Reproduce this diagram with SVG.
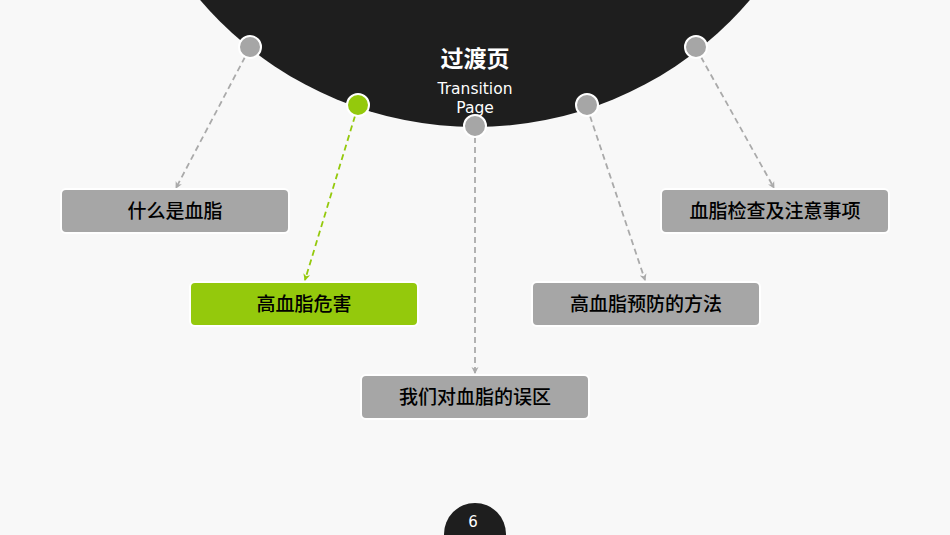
<svg xmlns="http://www.w3.org/2000/svg" width="950" height="535" viewBox="0 0 950 535">
<defs>
<style>
.box{fill:#a6a6a6;stroke:#ffffff;stroke-width:2}
.boxg{fill:#94c90c;stroke:#ffffff;stroke-width:2}
.lbl{font-family:"Noto Sans CJK SC","Noto Sans",sans-serif;font-size:19px;font-weight:500;fill:#000000;text-anchor:middle}
.dot{fill:#a6a6a6;stroke:#ffffff;stroke-width:2}
.dotg{fill:#94c90c;stroke:#ffffff;stroke-width:2}
.ln{fill:none;stroke:#aaaaaa;stroke-width:1.8;stroke-dasharray:6 4}
.lng{fill:none;stroke:#94c90c;stroke-width:1.8;stroke-dasharray:6 4}
</style>
<marker id="ah" markerWidth="8" markerHeight="8" refX="6" refY="4" orient="auto" markerUnits="userSpaceOnUse">
<path d="M0,0.5 L7,4 L0,7.5 L2,4 Z" fill="#aaaaaa"/>
</marker>
<marker id="ahg" markerWidth="8" markerHeight="8" refX="6" refY="4" orient="auto" markerUnits="userSpaceOnUse">
<path d="M0,0.5 L7,4 L0,7.5 L2,4 Z" fill="#94c90c"/>
</marker>
</defs>
<rect x="0" y="0" width="950" height="535" fill="#f8f8f8"/>
<g id="hub">
<circle cx="475" cy="-234" r="361" fill="#1e1e1e"/>
<text x="475" y="67" font-family="Noto Sans CJK SC,sans-serif" font-size="23" font-weight="bold" fill="#ffffff" text-anchor="middle">过渡页</text>
<text x="475" y="94" font-family="DejaVu Sans,sans-serif" font-size="15.5" fill="#ffffff" text-anchor="middle">Transition</text>
<text x="475" y="113" font-family="DejaVu Sans,sans-serif" font-size="15.5" fill="#ffffff" text-anchor="middle">Page</text>
</g>
<g id="connectors">
<line class="ln" x1="245" y1="57" x2="176" y2="188" marker-end="url(#ah)"/>
<line class="lng" x1="355" y1="116" x2="305" y2="280" marker-end="url(#ahg)"/>
<line class="ln" x1="475" y1="137" x2="475" y2="373" marker-end="url(#ah)"/>
<line class="ln" x1="590" y1="116" x2="645" y2="280" marker-end="url(#ah)"/>
<line class="ln" x1="701" y1="57" x2="774" y2="188" marker-end="url(#ah)"/>
</g>
<g id="dots">
<circle class="dot" cx="250" cy="47" r="11"/>
<circle class="dotg" cx="358" cy="105" r="11"/>
<circle class="dot" cx="475" cy="126" r="11"/>
<circle class="dot" cx="587" cy="105" r="11"/>
<circle class="dot" cx="696" cy="47" r="11"/>
</g>
<g id="node1">
<rect class="box" x="61" y="189" width="228" height="44" rx="5"/>
<text class="lbl" x="175" y="218">什么是血脂</text>
</g>
<g id="node2">
<rect class="boxg" x="190" y="282" width="228" height="44" rx="5"/>
<text class="lbl" x="304" y="311">高血脂危害</text>
</g>
<g id="node3">
<rect class="box" x="361" y="375" width="228" height="44" rx="5"/>
<text class="lbl" x="475" y="404">我们对血脂的误区</text>
</g>
<g id="node4">
<rect class="box" x="532" y="282" width="228" height="44" rx="5"/>
<text class="lbl" x="646" y="311">高血脂预防的方法</text>
</g>
<g id="node5">
<rect class="box" x="661" y="189" width="228" height="44" rx="5"/>
<text class="lbl" x="775" y="218">血脂检查及注意事项</text>
</g>
<g id="pagenum">
<circle cx="475" cy="534" r="31" fill="#1e1e1e"/>
<text x="473" y="527" font-family="DejaVu Sans,sans-serif" font-size="15" fill="#ffffff" text-anchor="middle">6</text>
</g>
</svg>
